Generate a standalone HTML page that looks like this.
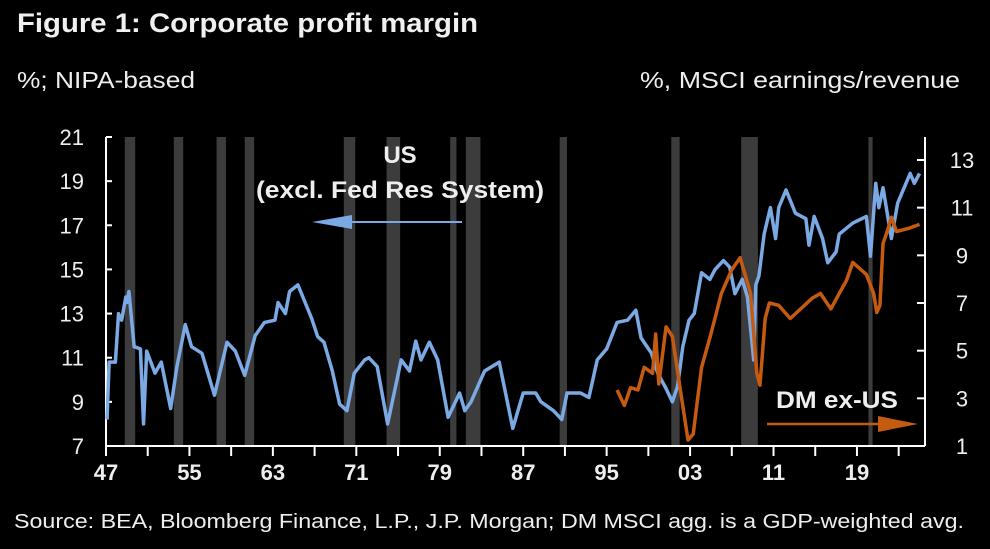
<!DOCTYPE html>
<html><head><meta charset="utf-8"><style>
html,body{margin:0;padding:0;background:#000;}
svg{display:block;font-family:"Liberation Sans",sans-serif;}
</style></head><body>
<svg id="chart" width="990" height="549" viewBox="0 0 990 549">
<rect width="990" height="549" fill="#000"/>
<text x="17" y="32" font-size="27" font-weight="bold" fill="#f0f0f0" textLength="461" lengthAdjust="spacingAndGlyphs">Figure 1: Corporate profit margin</text>
<text x="17" y="88" font-size="23" fill="#eee" textLength="178" lengthAdjust="spacingAndGlyphs">%; NIPA-based</text>
<text x="960" y="88" font-size="23" fill="#eee" text-anchor="end" textLength="320" lengthAdjust="spacingAndGlyphs">%, MSCI earnings/revenue</text>
<text x="14" y="528" font-size="20" fill="#eee" textLength="950" lengthAdjust="spacingAndGlyphs">Source: BEA, Bloomberg Finance, L.P., J.P. Morgan; DM MSCI agg. is a GDP-weighted avg.</text>
<g id="bands"></g>
<g id="axes"></g>
<g id="series"></g>
<g id="annot">
<text x="400" y="163" font-size="24" font-weight="bold" fill="#eee" text-anchor="middle">US</text>
<text x="400" y="198" font-size="24" font-weight="bold" fill="#eee" text-anchor="middle" textLength="288" lengthAdjust="spacingAndGlyphs">(excl. Fed Res System)</text>
<line x1="345" y1="222" x2="462" y2="222" stroke="#7aa9e3" stroke-width="2"/>
<polygon points="312,222 352,215 352,229" fill="#7aa9e3"/>
<text x="837" y="408" font-size="24" font-weight="bold" fill="#eee" text-anchor="middle" textLength="122" lengthAdjust="spacingAndGlyphs">DM ex-US</text>
<line x1="767" y1="424" x2="885" y2="424" stroke="#c55a11" stroke-width="2.5"/>
<polygon points="918,424 878,416 878,432" fill="#c55a11"/>
</g>
</svg>
<script>
const usYears=[1947.1,1947.3,1947.9,1948.2,1948.5,1948.9,1949.0,1949.2,1949.7,1950.3,1950.6,1950.9,1951.7,1952.3,1953.2,1953.8,1954.6,1955.2,1956.2,1957.4,1958.6,1959.4,1960.3,1961.3,1962.2,1963.2,1963.5,1964.2,1964.6,1965.4,1966.7,1967.3,1967.9,1968.7,1969.4,1970.1,1970.8,1971.8,1972.2,1973.0,1974.0,1975.3,1976.1,1976.7,1977.2,1978.0,1978.8,1979.8,1980.9,1981.4,1982.0,1983.3,1984.7,1986.0,1987.0,1988.2,1988.7,1989.9,1990.7,1991.2,1992.5,1993.3,1994.1,1995.0,1996.0,1997.0,1997.8,1998.3,1999.3,1999.9,2000.7,2001.3,2001.8,2002.3,2002.9,2003.4,2004.1,2004.9,2005.4,2006.2,2006.8,2007.3,2008.0,2008.5,2009.1,2009.3,2009.6,2010.1,2010.7,2011.2,2011.5,2012.2,2013.1,2014.1,2014.4,2014.9,2015.7,2016.2,2017.0,2017.3,2018.6,2019.9,2020.3,2020.8,2021.1,2021.5,2022.3,2022.9,2024.1,2024.5,2025.0];
const usValues=[8.2,10.8,10.8,13.0,12.7,13.75,13.5,14.0,11.5,11.4,8.0,11.3,10.3,10.8,8.7,10.6,12.5,11.5,11.2,9.3,11.7,11.3,10.2,12.0,12.6,12.7,13.5,13.0,14.0,14.3,12.8,11.95,11.7,10.4,8.9,8.6,10.3,10.9,11.0,10.6,8.0,10.9,10.4,11.75,10.9,11.7,10.9,8.3,9.4,8.6,9.0,10.4,10.8,7.8,9.4,9.4,9.0,8.6,8.2,9.4,9.4,9.2,10.9,11.4,12.6,12.7,13.15,11.9,11.2,10.3,9.6,9.0,9.7,11.5,12.7,13.0,14.85,14.55,15.0,15.4,15.1,13.9,14.55,13.75,10.9,14.3,14.7,16.6,17.8,16.4,17.8,18.6,17.55,17.3,16.1,17.4,16.4,15.3,15.8,16.6,17.1,17.4,15.6,18.9,17.8,18.7,16.4,18.0,19.35,18.9,19.35];
const dmYears=[1996.0,1996.7,1997.3,1998.0,1998.6,1999.4,1999.7,2000.0,2000.7,2001.3,2002.0,2002.8,2003.3,2004.1,2005.0,2006.0,2007.0,2007.8,2008.8,2009.4,2009.7,2010.2,2010.6,2011.5,2012.6,2013.6,2014.7,2015.5,2016.5,2017.3,2018.0,2018.6,2019.9,2020.6,2020.9,2021.2,2021.5,2021.9,2022.3,2022.8,2024.1,2025.0];
const dmValues=[3.35,2.7,3.45,3.35,4.3,4.05,5.7,3.6,6.0,5.6,3.55,1.25,1.5,4.3,5.7,7.4,8.4,8.9,7.4,4.05,3.55,6.35,7.0,6.9,6.35,6.75,7.2,7.4,6.75,7.4,7.95,8.7,8.2,7.4,6.6,6.9,9.5,10.0,10.6,10.0,10.15,10.3];
const recStart=[1948.8,1953.5,1957.6,1960.3,1969.8,1973.9,1980.0,1981.5,1990.5,2001.2,2007.9,2020.1];
const recEnd=[1949.8,1954.4,1958.5,1961.2,1970.9,1975.2,1980.6,1982.9,1991.2,2002.0,2009.5,2020.5];
const leftTicks=[7,9,11,13,15,17,19,21];
const rightTicks=[1,3,5,7,9,11,13];
const xTickLabels=["47","55","63","71","79","87","95","03","11","19"];
const xTickYears=[1947,1955,1963,1971,1979,1987,1995,2003,2011,2019];

const NS="http://www.w3.org/2000/svg";
const X0=106,X1=925,Y0=446;
function xs(yr){return X0+(yr-1947)*10.43;}
function yl(v){return Y0-(v-7)*(309/14);}
function yr(v){return Y0-(v-1)*(286/12);}
function mk(tag,attrs,parent){const e=document.createElementNS(NS,tag);for(const k in attrs)e.setAttribute(k,attrs[k]);parent.appendChild(e);return e;}
const bands=document.getElementById('bands'),axes=document.getElementById('axes'),series=document.getElementById('series');
recStart.forEach((s,i)=>{
  const r=mk('rect',{x:xs(s),y:137,width:xs(recEnd[i])-xs(s),height:Y0-137,fill:'#3c3c3c'},bands);
  
  
});
let a=mk('line',{x1:X0,y1:137,x2:X0,y2:Y0,stroke:'#fff','stroke-width':2},axes);


a=mk('line',{x1:X1,y1:137,x2:X1,y2:Y0,stroke:'#fff','stroke-width':2},axes);


a=mk('line',{x1:X0,y1:Y0,x2:X1,y2:Y0,stroke:'#fff','stroke-width':2},axes);


leftTicks.forEach(v=>{
  mk('line',{x1:X0,y1:yl(v),x2:X0+6,y2:yl(v),stroke:'#fff','stroke-width':2},axes);
  const t=mk('text',{x:84,y:yl(v)+8,'font-size':22,fill:'#eee','text-anchor':'end'},axes);
  t.textContent=v;
  
  
});
rightTicks.forEach(v=>{
  mk('line',{x1:X1-8,y1:yr(v),x2:X1,y2:yr(v),stroke:'#fff','stroke-width':2},axes);
  const t=mk('text',{x:962,y:yr(v)+8,'font-size':22,fill:'#eee','text-anchor':'middle'},axes);
  t.textContent=v;
  
  
});
for(let yv=1947;yv<=2023;yv+=4){mk('line',{x1:xs(yv),y1:Y0,x2:xs(yv),y2:Y0+10,stroke:'#fff','stroke-width':2},axes);}
xTickYears.forEach((yv,i)=>{
  const t=mk('text',{x:xs(yv),y:480,'font-size':22,'font-weight':'bold',fill:'#eee','text-anchor':'middle'},axes);
  t.textContent=xTickLabels[i];
  
  
});
let p=mk('polyline',{points:usYears.map((y,i)=>xs(y)+','+yl(usValues[i])).join(' '),fill:'none',stroke:'#7aa9e3','stroke-width':3.5,'stroke-linejoin':'round'},series);


p=mk('polyline',{points:dmYears.map((y,i)=>xs(y)+','+yr(dmValues[i])).join(' '),fill:'none',stroke:'#c55a11','stroke-width':3.5,'stroke-linejoin':'round'},series);


</script>
</body></html>
